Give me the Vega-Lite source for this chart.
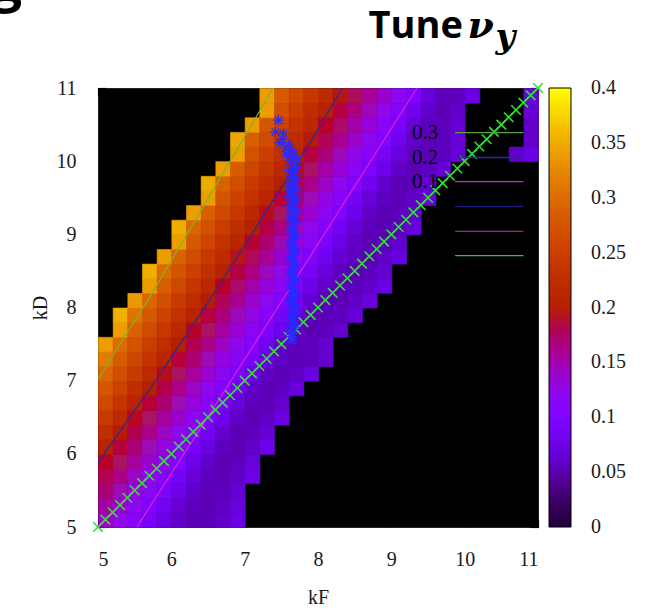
{
"$schema": "https://vega.github.io/schema/vega-lite/v6.json",
"width": 440, "height": 439,
"autosize": "none",
"padding": {"left": 98, "top": 88, "right": 116, "bottom": 84},
"background": "white",
"config": {
  "view": {"fill": "black", "stroke": "#222222", "strokeWidth": 1},
  "axis": {"labelFont": "Liberation Serif", "labelFontSize": 20, "labelColor": "#1a1a1a", "titleFont": "Liberation Serif", "titleFontSize": 20, "titleFontWeight": "normal", "titleColor": "#1a1a1a", "grid": false, "domain": false, "tickColor": "black", "tickSize": -8, "tickWidth": 1.2, "zindex": 1}
},
"resolve": {"axis": {"x": "independent", "y": "independent"}, "scale": {"stroke": "independent"}},
"datasets": {
"cells": [
{"x":5,"y":5,"v":0.143},{"x":5.2,"y":5,"v":0.126},{"x":5.4,"y":5,"v":0.108},{"x":5.6,"y":5,"v":0.09},{"x":5.8,"y":5,"v":0.072},{"x":6,"y":5,"v":0.059},{"x":6.2,"y":5,"v":0.052},{"x":6.4,"y":5,"v":0.053},{"x":6.6,"y":5,"v":0.06},{"x":6.8,"y":5,"v":0.071},
{"x":5,"y":5.2,"v":0.155},{"x":5.2,"y":5.2,"v":0.137},{"x":5.4,"y":5.2,"v":0.12},{"x":5.6,"y":5.2,"v":0.102},{"x":5.8,"y":5.2,"v":0.082},{"x":6,"y":5.2,"v":0.065},{"x":6.2,"y":5.2,"v":0.054},{"x":6.4,"y":5.2,"v":0.052},{"x":6.6,"y":5.2,"v":0.057},{"x":6.8,"y":5.2,"v":0.067},
{"x":5,"y":5.4,"v":0.167},{"x":5.2,"y":5.4,"v":0.149},{"x":5.4,"y":5.4,"v":0.131},{"x":5.6,"y":5.4,"v":0.114},{"x":5.8,"y":5.4,"v":0.095},{"x":6,"y":5.4,"v":0.074},{"x":6.2,"y":5.4,"v":0.059},{"x":6.4,"y":5.4,"v":0.052},{"x":6.6,"y":5.4,"v":0.054},{"x":6.8,"y":5.4,"v":0.064},
{"x":5,"y":5.6,"v":0.18},{"x":5.2,"y":5.6,"v":0.162},{"x":5.4,"y":5.6,"v":0.143},{"x":5.6,"y":5.6,"v":0.125},{"x":5.8,"y":5.6,"v":0.107},{"x":6,"y":5.6,"v":0.086},{"x":6.2,"y":5.6,"v":0.066},{"x":6.4,"y":5.6,"v":0.054},{"x":6.6,"y":5.6,"v":0.052},{"x":6.8,"y":5.6,"v":0.059},{"x":7,"y":5.6,"v":0.072},
{"x":5,"y":5.8,"v":0.192},{"x":5.2,"y":5.8,"v":0.174},{"x":5.4,"y":5.8,"v":0.156},{"x":5.6,"y":5.8,"v":0.137},{"x":5.8,"y":5.8,"v":0.119},{"x":6,"y":5.8,"v":0.101},{"x":6.2,"y":5.8,"v":0.077},{"x":6.4,"y":5.8,"v":0.06},{"x":6.6,"y":5.8,"v":0.052},{"x":6.8,"y":5.8,"v":0.055},{"x":7,"y":5.8,"v":0.067},
{"x":5,"y":6,"v":0.208},{"x":5.2,"y":6,"v":0.187},{"x":5.4,"y":6,"v":0.168},{"x":5.6,"y":6,"v":0.15},{"x":5.8,"y":6,"v":0.131},{"x":6,"y":6,"v":0.113},{"x":6.2,"y":6,"v":0.092},{"x":6.4,"y":6,"v":0.07},{"x":6.6,"y":6,"v":0.055},{"x":6.8,"y":6,"v":0.052},{"x":7,"y":6,"v":0.059},{"x":7.2,"y":6,"v":0.074},
{"x":5,"y":6.2,"v":0.227},{"x":5.2,"y":6.2,"v":0.199},{"x":5.4,"y":6.2,"v":0.181},{"x":5.6,"y":6.2,"v":0.162},{"x":5.8,"y":6.2,"v":0.143},{"x":6,"y":6.2,"v":0.125},{"x":6.2,"y":6.2,"v":0.106},{"x":6.4,"y":6.2,"v":0.083},{"x":6.6,"y":6.2,"v":0.063},{"x":6.8,"y":6.2,"v":0.052},{"x":7,"y":6.2,"v":0.054},{"x":7.2,"y":6.2,"v":0.065},
{"x":5,"y":6.4,"v":0.245},{"x":5.2,"y":6.4,"v":0.218},{"x":5.4,"y":6.4,"v":0.194},{"x":5.6,"y":6.4,"v":0.175},{"x":5.8,"y":6.4,"v":0.156},{"x":6,"y":6.4,"v":0.137},{"x":6.2,"y":6.4,"v":0.118},{"x":6.4,"y":6.4,"v":0.099},{"x":6.6,"y":6.4,"v":0.075},{"x":6.8,"y":6.4,"v":0.058},{"x":7,"y":6.4,"v":0.052},{"x":7.2,"y":6.4,"v":0.057},{"x":7.4,"y":6.4,"v":0.071},
{"x":5,"y":6.6,"v":0.262},{"x":5.2,"y":6.6,"v":0.236},{"x":5.4,"y":6.6,"v":0.21},{"x":5.6,"y":6.6,"v":0.188},{"x":5.8,"y":6.6,"v":0.169},{"x":6,"y":6.6,"v":0.15},{"x":6.2,"y":6.6,"v":0.131},{"x":6.4,"y":6.6,"v":0.112},{"x":6.6,"y":6.6,"v":0.09},{"x":6.8,"y":6.6,"v":0.068},{"x":7,"y":6.6,"v":0.054},{"x":7.2,"y":6.6,"v":0.052},{"x":7.4,"y":6.6,"v":0.062},
{"x":5,"y":6.8,"v":0.278},{"x":5.2,"y":6.8,"v":0.253},{"x":5.4,"y":6.8,"v":0.227},{"x":5.6,"y":6.8,"v":0.202},{"x":5.8,"y":6.8,"v":0.182},{"x":6,"y":6.8,"v":0.163},{"x":6.2,"y":6.8,"v":0.143},{"x":6.4,"y":6.8,"v":0.124},{"x":6.6,"y":6.8,"v":0.105},{"x":6.8,"y":6.8,"v":0.08},{"x":7,"y":6.8,"v":0.06},{"x":7.2,"y":6.8,"v":0.052},{"x":7.4,"y":6.8,"v":0.056},{"x":7.6,"y":6.8,"v":0.07},
{"x":5,"y":7,"v":0.294},{"x":5.2,"y":7,"v":0.269},{"x":5.4,"y":7,"v":0.244},{"x":5.6,"y":7,"v":0.219},{"x":5.8,"y":7,"v":0.195},{"x":6,"y":7,"v":0.176},{"x":6.2,"y":7,"v":0.156},{"x":6.4,"y":7,"v":0.137},{"x":6.6,"y":7,"v":0.117},{"x":6.8,"y":7,"v":0.097},{"x":7,"y":7,"v":0.074},{"x":7.2,"y":7,"v":0.057},{"x":7.4,"y":7,"v":0.052},{"x":7.6,"y":7,"v":0.057},{"x":7.8,"y":7,"v":0.07},
{"x":5,"y":7.2,"v":0.314},{"x":5.2,"y":7.2,"v":0.284},{"x":5.4,"y":7.2,"v":0.259},{"x":5.6,"y":7.2,"v":0.234},{"x":5.8,"y":7.2,"v":0.21},{"x":6,"y":7.2,"v":0.188},{"x":6.2,"y":7.2,"v":0.169},{"x":6.4,"y":7.2,"v":0.149},{"x":6.6,"y":7.2,"v":0.13},{"x":6.8,"y":7.2,"v":0.11},{"x":7,"y":7.2,"v":0.09},{"x":7.2,"y":7.2,"v":0.071},{"x":7.4,"y":7.2,"v":0.058},{"x":7.6,"y":7.2,"v":0.052},{"x":7.8,"y":7.2,"v":0.054},{"x":8,"y":7.2,"v":0.063},
{"x":5,"y":7.4,"v":0.339},{"x":5.2,"y":7.4,"v":0.299},{"x":5.4,"y":7.4,"v":0.274},{"x":5.6,"y":7.4,"v":0.25},{"x":5.8,"y":7.4,"v":0.225},{"x":6,"y":7.4,"v":0.201},{"x":6.2,"y":7.4,"v":0.181},{"x":6.4,"y":7.4,"v":0.162},{"x":6.6,"y":7.4,"v":0.142},{"x":6.8,"y":7.4,"v":0.123},{"x":7,"y":7.4,"v":0.103},{"x":7.2,"y":7.4,"v":0.081},{"x":7.4,"y":7.4,"v":0.062},{"x":7.6,"y":7.4,"v":0.053},{"x":7.8,"y":7.4,"v":0.053},{"x":8,"y":7.4,"v":0.063},
{"x":5.2,"y":7.6,"v":0.34},{"x":5.4,"y":7.6,"v":0.289},{"x":5.6,"y":7.6,"v":0.265},{"x":5.8,"y":7.6,"v":0.24},{"x":6,"y":7.6,"v":0.216},{"x":6.2,"y":7.6,"v":0.193},{"x":6.4,"y":7.6,"v":0.174},{"x":6.6,"y":7.6,"v":0.155},{"x":6.8,"y":7.6,"v":0.135},{"x":7,"y":7.6,"v":0.116},{"x":7.2,"y":7.6,"v":0.095},{"x":7.4,"y":7.6,"v":0.075},{"x":7.6,"y":7.6,"v":0.059},{"x":7.8,"y":7.6,"v":0.052},{"x":8,"y":7.6,"v":0.054},{"x":8.2,"y":7.6,"v":0.063},
{"x":5.2,"y":7.8,"v":0.353},{"x":5.4,"y":7.8,"v":0.307},{"x":5.6,"y":7.8,"v":0.28},{"x":5.8,"y":7.8,"v":0.256},{"x":6,"y":7.8,"v":0.231},{"x":6.2,"y":7.8,"v":0.207},{"x":6.4,"y":7.8,"v":0.186},{"x":6.6,"y":7.8,"v":0.167},{"x":6.8,"y":7.8,"v":0.147},{"x":7,"y":7.8,"v":0.128},{"x":7.2,"y":7.8,"v":0.108},{"x":7.4,"y":7.8,"v":0.088},{"x":7.6,"y":7.8,"v":0.069},{"x":7.8,"y":7.8,"v":0.056},{"x":8,"y":7.8,"v":0.052},{"x":8.2,"y":7.8,"v":0.055},{"x":8.4,"y":7.8,"v":0.066},
{"x":5.4,"y":8,"v":0.337},{"x":5.6,"y":8,"v":0.294},{"x":5.8,"y":8,"v":0.27},{"x":6,"y":8,"v":0.246},{"x":6.2,"y":8,"v":0.222},{"x":6.4,"y":8,"v":0.199},{"x":6.6,"y":8,"v":0.179},{"x":6.8,"y":8,"v":0.16},{"x":7,"y":8,"v":0.14},{"x":7.2,"y":8,"v":0.121},{"x":7.4,"y":8,"v":0.101},{"x":7.6,"y":8,"v":0.081},{"x":7.8,"y":8,"v":0.064},{"x":8,"y":8,"v":0.054},{"x":8.2,"y":8,"v":0.052},{"x":8.4,"y":8,"v":0.057},{"x":8.6,"y":8,"v":0.068},
{"x":5.6,"y":8.2,"v":0.34},{"x":5.8,"y":8.2,"v":0.285},{"x":6,"y":8.2,"v":0.261},{"x":6.2,"y":8.2,"v":0.237},{"x":6.4,"y":8.2,"v":0.214},{"x":6.6,"y":8.2,"v":0.192},{"x":6.8,"y":8.2,"v":0.172},{"x":7,"y":8.2,"v":0.153},{"x":7.2,"y":8.2,"v":0.133},{"x":7.4,"y":8.2,"v":0.114},{"x":7.6,"y":8.2,"v":0.094},{"x":7.8,"y":8.2,"v":0.074},{"x":8,"y":8.2,"v":0.06},{"x":8.2,"y":8.2,"v":0.052},{"x":8.4,"y":8.2,"v":0.053},{"x":8.6,"y":8.2,"v":0.06},{"x":8.8,"y":8.2,"v":0.072},
{"x":5.6,"y":8.4,"v":0.352},{"x":5.8,"y":8.4,"v":0.299},{"x":6,"y":8.4,"v":0.276},{"x":6.2,"y":8.4,"v":0.252},{"x":6.4,"y":8.4,"v":0.229},{"x":6.6,"y":8.4,"v":0.205},{"x":6.8,"y":8.4,"v":0.185},{"x":7,"y":8.4,"v":0.165},{"x":7.2,"y":8.4,"v":0.146},{"x":7.4,"y":8.4,"v":0.126},{"x":7.6,"y":8.4,"v":0.107},{"x":7.8,"y":8.4,"v":0.087},{"x":8,"y":8.4,"v":0.069},{"x":8.2,"y":8.4,"v":0.056},{"x":8.4,"y":8.4,"v":0.052},{"x":8.6,"y":8.4,"v":0.055},{"x":8.8,"y":8.4,"v":0.064},
{"x":5.8,"y":8.6,"v":0.34},{"x":6,"y":8.6,"v":0.29},{"x":6.2,"y":8.6,"v":0.266},{"x":6.4,"y":8.6,"v":0.243},{"x":6.6,"y":8.6,"v":0.22},{"x":6.8,"y":8.6,"v":0.197},{"x":7,"y":8.6,"v":0.178},{"x":7.2,"y":8.6,"v":0.158},{"x":7.4,"y":8.6,"v":0.138},{"x":7.6,"y":8.6,"v":0.119},{"x":7.8,"y":8.6,"v":0.099},{"x":8,"y":8.6,"v":0.079},{"x":8.2,"y":8.6,"v":0.063},{"x":8.4,"y":8.6,"v":0.054},{"x":8.6,"y":8.6,"v":0.052},{"x":8.8,"y":8.6,"v":0.058},{"x":9,"y":8.6,"v":0.069},
{"x":6,"y":8.8,"v":0.34},{"x":6.2,"y":8.8,"v":0.281},{"x":6.4,"y":8.8,"v":0.258},{"x":6.6,"y":8.8,"v":0.234},{"x":6.8,"y":8.8,"v":0.211},{"x":7,"y":8.8,"v":0.19},{"x":7.2,"y":8.8,"v":0.17},{"x":7.4,"y":8.8,"v":0.151},{"x":7.6,"y":8.8,"v":0.131},{"x":7.8,"y":8.8,"v":0.112},{"x":8,"y":8.8,"v":0.092},{"x":8.2,"y":8.8,"v":0.072},{"x":8.4,"y":8.8,"v":0.058},{"x":8.6,"y":8.8,"v":0.052},{"x":8.8,"y":8.8,"v":0.054},{"x":9,"y":8.8,"v":0.062},
{"x":6,"y":9,"v":0.351},{"x":6.2,"y":9,"v":0.295},{"x":6.4,"y":9,"v":0.272},{"x":6.6,"y":9,"v":0.249},{"x":6.8,"y":9,"v":0.226},{"x":7,"y":9,"v":0.203},{"x":7.2,"y":9,"v":0.183},{"x":7.4,"y":9,"v":0.163},{"x":7.6,"y":9,"v":0.144},{"x":7.8,"y":9,"v":0.124},{"x":8,"y":9,"v":0.105},{"x":8.2,"y":9,"v":0.084},{"x":8.4,"y":9,"v":0.066},{"x":8.6,"y":9,"v":0.054},{"x":8.8,"y":9,"v":0.052},{"x":9,"y":9,"v":0.057},{"x":9.2,"y":9,"v":0.069},
{"x":6.2,"y":9.2,"v":0.34},{"x":6.4,"y":9.2,"v":0.286},{"x":6.6,"y":9.2,"v":0.263},{"x":6.8,"y":9.2,"v":0.24},{"x":7,"y":9.2,"v":0.217},{"x":7.2,"y":9.2,"v":0.195},{"x":7.4,"y":9.2,"v":0.176},{"x":7.6,"y":9.2,"v":0.156},{"x":7.8,"y":9.2,"v":0.137},{"x":8,"y":9.2,"v":0.117},{"x":8.2,"y":9.2,"v":0.097},{"x":8.4,"y":9.2,"v":0.076},{"x":8.6,"y":9.2,"v":0.06},{"x":8.8,"y":9.2,"v":0.052},{"x":9,"y":9.2,"v":0.054},{"x":9.2,"y":9.2,"v":0.063},
{"x":6.4,"y":9.4,"v":0.34},{"x":6.6,"y":9.4,"v":0.277},{"x":6.8,"y":9.4,"v":0.254},{"x":7,"y":9.4,"v":0.232},{"x":7.2,"y":9.4,"v":0.209},{"x":7.4,"y":9.4,"v":0.188},{"x":7.6,"y":9.4,"v":0.169},{"x":7.8,"y":9.4,"v":0.149},{"x":8,"y":9.4,"v":0.129},{"x":8.2,"y":9.4,"v":0.11},{"x":8.4,"y":9.4,"v":0.088},{"x":8.6,"y":9.4,"v":0.068},{"x":8.8,"y":9.4,"v":0.055},{"x":9,"y":9.4,"v":0.052},{"x":9.2,"y":9.4,"v":0.058},{"x":9.4,"y":9.4,"v":0.07},
{"x":6.4,"y":9.6,"v":0.35},{"x":6.6,"y":9.6,"v":0.29},{"x":6.8,"y":9.6,"v":0.268},{"x":7,"y":9.6,"v":0.246},{"x":7.2,"y":9.6,"v":0.223},{"x":7.4,"y":9.6,"v":0.201},{"x":7.6,"y":9.6,"v":0.181},{"x":7.8,"y":9.6,"v":0.161},{"x":8,"y":9.6,"v":0.142},{"x":8.2,"y":9.6,"v":0.122},{"x":8.4,"y":9.6,"v":0.103},{"x":8.6,"y":9.6,"v":0.08},{"x":8.8,"y":9.6,"v":0.061},{"x":9,"y":9.6,"v":0.052},{"x":9.2,"y":9.6,"v":0.054},{"x":9.4,"y":9.6,"v":0.064},
{"x":6.6,"y":9.8,"v":0.34},{"x":6.8,"y":9.8,"v":0.282},{"x":7,"y":9.8,"v":0.259},{"x":7.2,"y":9.8,"v":0.237},{"x":7.4,"y":9.8,"v":0.215},{"x":7.6,"y":9.8,"v":0.194},{"x":7.8,"y":9.8,"v":0.174},{"x":8,"y":9.8,"v":0.154},{"x":8.2,"y":9.8,"v":0.135},{"x":8.4,"y":9.8,"v":0.115},{"x":8.6,"y":9.8,"v":0.095},{"x":8.8,"y":9.8,"v":0.074},{"x":9,"y":9.8,"v":0.058},{"x":9.2,"y":9.8,"v":0.052},{"x":9.4,"y":9.8,"v":0.055},{"x":9.6,"y":9.8,"v":0.065},
{"x":6.8,"y":10,"v":0.34},{"x":7,"y":10,"v":0.273},{"x":7.2,"y":10,"v":0.251},{"x":7.4,"y":10,"v":0.229},{"x":7.6,"y":10,"v":0.207},{"x":7.8,"y":10,"v":0.186},{"x":8,"y":10,"v":0.167},{"x":8.2,"y":10,"v":0.147},{"x":8.4,"y":10,"v":0.127},{"x":8.6,"y":10,"v":0.108},{"x":8.8,"y":10,"v":0.087},{"x":9,"y":10,"v":0.068},{"x":9.2,"y":10,"v":0.056},{"x":9.4,"y":10,"v":0.052},{"x":9.6,"y":10,"v":0.056},{"x":9.8,"y":10,"v":0.066},{"x":10.6,"y":10,"v":0.06},{"x":10.8,"y":10,"v":0.07},
{"x":6.8,"y":10.2,"v":0.347},{"x":7,"y":10.2,"v":0.286},{"x":7.2,"y":10.2,"v":0.265},{"x":7.4,"y":10.2,"v":0.243},{"x":7.6,"y":10.2,"v":0.221},{"x":7.8,"y":10.2,"v":0.199},{"x":8,"y":10.2,"v":0.179},{"x":8.2,"y":10.2,"v":0.16},{"x":8.4,"y":10.2,"v":0.14},{"x":8.6,"y":10.2,"v":0.12},{"x":8.8,"y":10.2,"v":0.102},{"x":9,"y":10.2,"v":0.078},{"x":9.2,"y":10.2,"v":0.06},{"x":9.4,"y":10.2,"v":0.052},{"x":9.6,"y":10.2,"v":0.054},{"x":9.8,"y":10.2,"v":0.065},{"x":10.8,"y":10.2,"v":0.06},
{"x":7,"y":10.4,"v":0.34},{"x":7.2,"y":10.4,"v":0.278},{"x":7.4,"y":10.4,"v":0.256},{"x":7.6,"y":10.4,"v":0.234},{"x":7.8,"y":10.4,"v":0.213},{"x":8,"y":10.4,"v":0.192},{"x":8.2,"y":10.4,"v":0.172},{"x":8.4,"y":10.4,"v":0.153},{"x":8.6,"y":10.4,"v":0.133},{"x":8.8,"y":10.4,"v":0.113},{"x":9,"y":10.4,"v":0.091},{"x":9.2,"y":10.4,"v":0.068},{"x":9.4,"y":10.4,"v":0.054},{"x":9.6,"y":10.4,"v":0.053},{"x":9.8,"y":10.4,"v":0.063},{"x":10.8,"y":10.4,"v":0.06},
{"x":7.2,"y":10.6,"v":0.34},{"x":7.4,"y":10.6,"v":0.269},{"x":7.6,"y":10.6,"v":0.248},{"x":7.8,"y":10.6,"v":0.226},{"x":8,"y":10.6,"v":0.205},{"x":8.2,"y":10.6,"v":0.185},{"x":8.4,"y":10.6,"v":0.165},{"x":8.6,"y":10.6,"v":0.145},{"x":8.8,"y":10.6,"v":0.126},{"x":9,"y":10.6,"v":0.106},{"x":9.2,"y":10.6,"v":0.08},{"x":9.4,"y":10.6,"v":0.059},{"x":9.6,"y":10.6,"v":0.052},{"x":9.8,"y":10.6,"v":0.06},{"x":10.8,"y":10.6,"v":0.065},
{"x":7.2,"y":10.8,"v":0.34},{"x":7.4,"y":10.8,"v":0.283},{"x":7.6,"y":10.8,"v":0.261},{"x":7.8,"y":10.8,"v":0.24},{"x":8,"y":10.8,"v":0.218},{"x":8.2,"y":10.8,"v":0.197},{"x":8.4,"y":10.8,"v":0.177},{"x":8.6,"y":10.8,"v":0.158},{"x":8.8,"y":10.8,"v":0.138},{"x":9,"y":10.8,"v":0.118},{"x":9.2,"y":10.8,"v":0.098},{"x":9.4,"y":10.8,"v":0.069},{"x":9.6,"y":10.8,"v":0.053},{"x":9.8,"y":10.8,"v":0.055},{"x":10,"y":10.8,"v":0.071},{"x":10.8,"y":10.8,"v":0.07}
],
"contours": [
{"level":"0.3","x":5,"y":7.02},{"level":"0.3","x":5.74,"y":8.2},{"level":"0.3","x":7.39,"y":11},
{"level":"0.2","x":5,"y":5.88},{"level":"0.2","x":5.8,"y":7.02},{"level":"0.2","x":6.53,"y":8.11},{"level":"0.2","x":7.89,"y":10.25},{"level":"0.2","x":8.33,"y":11},
{"level":"0.1","x":5.53,"y":5},{"level":"0.1","x":6.75,"y":6.9},{"level":"0.1","x":7.52,"y":8.11},{"level":"0.1","x":9.35,"y":11}
],
"diag": [
{"x":5,"y":5},{"x":5.1,"y":5.1},{"x":5.2,"y":5.2},{"x":5.3,"y":5.3},{"x":5.4,"y":5.4},{"x":5.5,"y":5.5},{"x":5.6,"y":5.6},{"x":5.7,"y":5.7},{"x":5.8,"y":5.8},{"x":5.9,"y":5.9},
{"x":6,"y":6},{"x":6.1,"y":6.1},{"x":6.2,"y":6.2},{"x":6.3,"y":6.3},{"x":6.4,"y":6.4},{"x":6.5,"y":6.5},{"x":6.6,"y":6.6},{"x":6.7,"y":6.7},{"x":6.8,"y":6.8},{"x":6.9,"y":6.9},
{"x":7,"y":7},{"x":7.1,"y":7.1},{"x":7.2,"y":7.2},{"x":7.3,"y":7.3},{"x":7.4,"y":7.4},{"x":7.5,"y":7.5},{"x":7.6,"y":7.6},{"x":7.7,"y":7.7},{"x":7.8,"y":7.8},{"x":7.9,"y":7.9},
{"x":8,"y":8},{"x":8.1,"y":8.1},{"x":8.2,"y":8.2},{"x":8.3,"y":8.3},{"x":8.4,"y":8.4},{"x":8.5,"y":8.5},{"x":8.6,"y":8.6},{"x":8.7,"y":8.7},{"x":8.8,"y":8.8},{"x":8.9,"y":8.9},
{"x":9,"y":9},{"x":9.1,"y":9.1},{"x":9.2,"y":9.2},{"x":9.3,"y":9.3},{"x":9.4,"y":9.4},{"x":9.5,"y":9.5},{"x":9.6,"y":9.6},{"x":9.7,"y":9.7},{"x":9.8,"y":9.8},{"x":9.9,"y":9.9},
{"x":10,"y":10},{"x":10.1,"y":10.1},{"x":10.2,"y":10.2},{"x":10.3,"y":10.3},{"x":10.4,"y":10.4},{"x":10.5,"y":10.5},{"x":10.6,"y":10.6},{"x":10.7,"y":10.7},{"x":10.8,"y":10.8},{"x":10.9,"y":10.9},{"x":11,"y":11}
],
"stars": [
{"x":7.46,"y":10.56},{"x":7.42,"y":10.4},{"x":7.53,"y":10.38},{"x":7.48,"y":10.25},{"x":7.6,"y":10.22},{"x":7.64,"y":10.15},{"x":7.57,"y":10.09},{"x":7.66,"y":10.06},{"x":7.52,"y":10.3},{"x":7.69,"y":9.93},{"x":7.62,"y":10.0},{"x":7.72,"y":10.02},{"x":7.56,"y":10.18},{"x":7.67,"y":10.1},
{"x":7.68,"y":9.9},{"x":7.66,"y":9.85},{"x":7.64,"y":9.8},{"x":7.65,"y":9.75},{"x":7.66,"y":9.7},{"x":7.64,"y":9.65},{"x":7.63,"y":9.6},{"x":7.65,"y":9.55},{"x":7.66,"y":9.5},{"x":7.64,"y":9.45},{"x":7.65,"y":9.4},{"x":7.66,"y":9.35},{"x":7.65,"y":9.3},{"x":7.66,"y":9.25},{"x":7.67,"y":9.2},
{"x":7.61,"y":9.67},{"x":7.71,"y":9.62},{"x":7.61,"y":9.52},{"x":7.71,"y":9.47},{"x":7.61,"y":9.37},{"x":7.71,"y":9.32},{"x":7.71,"y":9.77},{"x":7.61,"y":9.87},{"x":7.62,"y":9.22},{"x":7.7,"y":9.17},
{"x":7.66,"y":9.15},{"x":7.65,"y":9.1},{"x":7.66,"y":9.05},{"x":7.67,"y":9.0},{"x":7.66,"y":8.95},{"x":7.65,"y":8.9},{"x":7.66,"y":8.85},{"x":7.67,"y":8.8},{"x":7.66,"y":8.75},{"x":7.65,"y":8.7},{"x":7.66,"y":8.65},{"x":7.67,"y":8.6},{"x":7.66,"y":8.55},{"x":7.65,"y":8.5},{"x":7.66,"y":8.45},{"x":7.67,"y":8.4},{"x":7.66,"y":8.35},{"x":7.65,"y":8.3},{"x":7.66,"y":8.25},{"x":7.66,"y":8.2},{"x":7.65,"y":8.15},{"x":7.66,"y":8.1},{"x":7.67,"y":8.05},{"x":7.66,"y":8.0},{"x":7.65,"y":7.95},{"x":7.66,"y":7.9},{"x":7.66,"y":7.85},{"x":7.65,"y":7.8},{"x":7.66,"y":7.75},{"x":7.66,"y":7.7},{"x":7.65,"y":7.65},{"x":7.65,"y":7.6},{"x":7.64,"y":7.55},
{"x":7.62,"y":9.07},{"x":7.7,"y":8.97},{"x":7.62,"y":8.87},{"x":7.7,"y":8.77},{"x":7.62,"y":8.67},{"x":7.7,"y":8.57},{"x":7.62,"y":8.47},{"x":7.7,"y":8.37},{"x":7.62,"y":8.27},{"x":7.7,"y":8.17},{"x":7.62,"y":8.07},{"x":7.7,"y":7.97},{"x":7.62,"y":7.87},{"x":7.69,"y":7.77},{"x":7.62,"y":7.67}
],
"keylines": [
{"item":"0.3","y":10.39},{"item":"0.2","y":10.05},{"item":"0.1","y":9.72},{"item":"k4","y":9.38},{"item":"k5","y":9.04},{"item":"k6","y":8.71}
],
"keylabels": [
{"item":"0.3","y":10.39},{"item":"0.2","y":10.05},{"item":"0.1","y":9.72}
]
},
"layer": [
{
  "data": {"name": "cells"},
  "mark": {"type": "rect", "binSpacing": 0, "strokeWidth": 0.6},
  "encoding": {
    "x": {"field": "x", "type": "quantitative", "bin": {"binned": true, "step": 0.2}, "scale": {"domain": [5, 11], "nice": false, "zero": false}, "axis": {"title": "kF", "values": [5, 6, 7, 8, 9, 10, 11], "format": "d", "labelPadding": 30, "titlePadding": 18}},
    "y": {"field": "y", "type": "quantitative", "bin": {"binned": true, "step": 0.2}, "scale": {"domain": [5, 11], "nice": false, "zero": false}, "axis": {"title": "kD", "values": [5, 6, 7, 8, 9, 10, 11], "format": "d", "labelPadding": 30, "titlePadding": 6}},
    "color": {"field": "v", "type": "quantitative",
      "scale": {"domain": [0, 0.025, 0.05, 0.075, 0.1, 0.125, 0.15, 0.175, 0.2, 0.225, 0.25, 0.275, 0.3, 0.325, 0.35, 0.375, 0.4],
                "range": ["#000000", "#400062", "#5a00b4", "#6e02ec", "#8004ff", "#8f08ec", "#9c0db4", "#a91562", "#b42000", "#bf2d00", "#ca3e00", "#d35300", "#dd6c00", "#e68900", "#efab00", "#f7d200", "#ffff00"]},
      "legend": {"orient": "right", "offset": 10, "direction": "vertical", "gradientLength": 439, "gradientThickness": 22, "padding": 0, "title": null, "values": [0, 0.05, 0.1, 0.15, 0.2, 0.25, 0.3, 0.35, 0.4], "format": "~g", "labelFont": "Liberation Serif", "labelFontSize": 20, "labelColor": "#1a1a1a", "labelOffset": 20, "labelBaseline": "middle", "labelOverlap": false, "gradientStrokeColor": "black", "gradientStrokeWidth": 1,
        "encode": {"labels": {"update": {"baseline": {"value": "middle"}}}}}},
    "stroke": {"field": "v", "type": "quantitative", "legend": null,
      "scale": {"domain": [0, 0.025, 0.05, 0.075, 0.1, 0.125, 0.15, 0.175, 0.2, 0.225, 0.25, 0.275, 0.3, 0.325, 0.35, 0.375, 0.4],
                "range": ["#000000", "#400062", "#5a00b4", "#6e02ec", "#8004ff", "#8f08ec", "#9c0db4", "#a91562", "#b42000", "#bf2d00", "#ca3e00", "#d35300", "#dd6c00", "#e68900", "#efab00", "#f7d200", "#ffff00"]}}
  }
},
{
  "data": {"name": "contours"},
  "mark": {"type": "line", "strokeWidth": 1.2},
  "encoding": {
    "x": {"field": "x", "type": "quantitative", "axis": null},
    "y": {"field": "y", "type": "quantitative", "axis": null},
    "detail": {"field": "level"},
    "stroke": {"field": "level", "type": "nominal", "legend": null,
      "scale": {"domain": ["0.3", "0.2", "0.1", "k4", "k5", "k6"], "range": ["#7ab530", "#2a2a9a", "#e020e0", "#1c1c8c", "#a0209c", "#28b4b4"]}}
  }
},
{
  "data": {"name": "diag"},
  "mark": {"type": "line", "color": "#33dd33", "strokeWidth": 1.2},
  "encoding": {
    "x": {"field": "x", "type": "quantitative", "axis": null},
    "y": {"field": "y", "type": "quantitative", "axis": null}
  }
},
{
  "data": {"name": "diag"},
  "mark": {"type": "point", "shape": "M-1,-1L1,1M-1,1L1,-1", "filled": false, "color": "#33dd33", "strokeWidth": 1.6, "size": 90, "opacity": 1, "clip": false},
  "encoding": {
    "x": {"field": "x", "type": "quantitative", "axis": {"orient": "top", "labels": false, "values": [5, 6, 7, 8, 9, 10, 11], "title": "ν", "titleX": 369, "titleY": -51, "titleAngle": 0, "titleAlign": "left", "titleBaseline": "alphabetic", "titleFont": "DejaVu Serif", "titleFontSize": 38, "titleFontStyle": "italic", "titleFontWeight": "bold", "titleColor": "black"}},
    "y": {"field": "y", "type": "quantitative", "axis": {"orient": "right", "labels": false, "values": [5, 6, 7, 8, 9, 10, 11], "title": "y", "titleX": -43, "titleY": -41, "titleAngle": 0, "titleAlign": "left", "titleBaseline": "alphabetic", "titleFont": "DejaVu Serif", "titleFontSize": 34, "titleFontStyle": "italic", "titleFontWeight": "bold", "titleColor": "black"}}
  }
},
{
  "data": {"name": "stars"},
  "mark": {"type": "point", "shape": "M-1,0L1,0M0,-1L0,1M-0.7,-0.7L0.7,0.7M-0.7,0.7L0.7,-0.7", "filled": false, "color": "#2a2aff", "strokeWidth": 1.2, "size": 120, "opacity": 1},
  "encoding": {
    "x": {"field": "x", "type": "quantitative", "axis": {"orient": "top", "ticks": false, "labels": false, "domain": false, "title": "Tune", "titleX": 270, "titleY": -51, "titleAngle": 0, "titleAlign": "left", "titleBaseline": "alphabetic", "titleFont": "Open Sans", "titleFontSize": 38, "titleFontWeight": "bold", "titleColor": "black"}},
    "y": {"field": "y", "type": "quantitative", "axis": {"orient": "left", "ticks": false, "labels": false, "domain": false, "title": "g", "titleX": -108, "titleY": -88, "titleAngle": 0, "titleAlign": "left", "titleBaseline": "alphabetic", "titleFont": "Open Sans", "titleFontSize": 56, "titleFontWeight": "bold", "titleColor": "black"}}
  }
},
{
  "data": {"name": "keylines"},
  "mark": {"type": "rule", "strokeWidth": 1.3},
  "encoding": {
    "x": {"datum": 9.87, "type": "quantitative", "axis": null},
    "x2": {"datum": 10.8},
    "y": {"field": "y", "type": "quantitative", "axis": null},
    "stroke": {"field": "item", "type": "nominal", "legend": null,
      "scale": {"domain": ["0.3", "0.2", "0.1", "k4", "k5", "k6"], "range": ["#5aa03c", "#2a2a9a", "#e020e0", "#1c1c8c", "#a0209c", "#28b4b4"]}}
  }
},
{
  "data": {"name": "keylabels"},
  "mark": {"type": "text", "align": "right", "baseline": "middle", "font": "Liberation Serif", "fontSize": 21, "color": "black"},
  "encoding": {
    "x": {"datum": 9.64, "type": "quantitative", "axis": null},
    "y": {"field": "y", "type": "quantitative", "axis": null},
    "text": {"field": "item"}
  }
}
]
}
